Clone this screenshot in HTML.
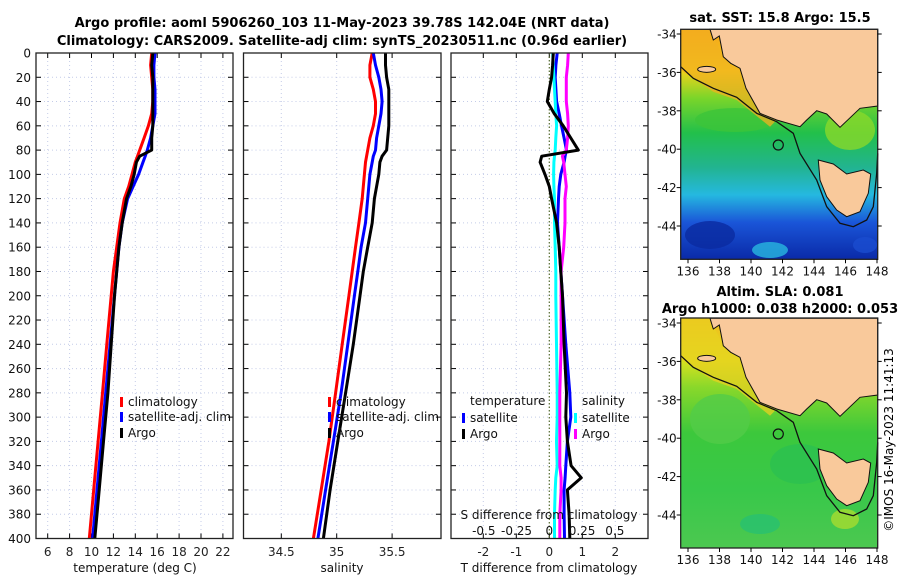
<!DOCTYPE html>
<html><head><meta charset="utf-8"><style>
body{margin:0;background:#fff}
svg{display:block;font-family:"DejaVu Sans","Liberation Sans",sans-serif}
</style></head><body>
<svg id="fig" width="900" height="580" viewBox="0 0 900 580" xmlns="http://www.w3.org/2000/svg">
<defs>
<linearGradient id="sst" x1="0" y1="0" x2="0" y2="1">
<stop offset="0" stop-color="#f6a11a"/><stop offset="0.18" stop-color="#f2d21a"/><stop offset="0.3" stop-color="#7ad52a"/><stop offset="0.45" stop-color="#22c04a"/><stop offset="0.6" stop-color="#22b490"/><stop offset="0.72" stop-color="#25b8e0"/><stop offset="0.84" stop-color="#1a55d8"/><stop offset="1" stop-color="#0a2aa8"/>
</linearGradient>
<linearGradient id="sla" x1="0" y1="0" x2="0" y2="1">
<stop offset="0" stop-color="#f4b81e"/><stop offset="0.18" stop-color="#dce21e"/><stop offset="0.3" stop-color="#8ad82a"/><stop offset="0.5" stop-color="#3cc83c"/><stop offset="0.75" stop-color="#38c84a"/><stop offset="1" stop-color="#4cc850"/>
</linearGradient>
</defs>
<g id="titles" font-weight="bold" font-size="13" text-anchor="middle">
<text x="342" y="27">Argo profile: aoml 5906260_103 11-May-2023 39.78S 142.04E (NRT data)</text>
<text x="342" y="45">Climatology: CARS2009. Satellite-adj clim: synTS_20230511.nc (0.96d earlier)</text>
<text x="780" y="22">sat. SST: 15.8 Argo: 15.5</text>
<text x="780" y="296">Altim. SLA: 0.081</text>
<text x="780" y="313">Argo h1000: 0.038 h2000: 0.053</text>
</g>
<text transform="translate(893,440) rotate(-90)" font-size="12" text-anchor="middle">©IMOS 16-May-2023 11:41:13</text>
<g id="panels"></g>
<g id="maps"></g>
</svg>
<script>
// ---- data ----
const profDepths=[0,10,20,30,40,50,60,70,80,85,90,100,110,120,140,160,180,200,240,280,320,360,400];
const tempClim=[15.5,15.4,15.5,15.6,15.6,15.5,15.2,14.8,14.4,14.2,14.0,13.7,13.4,13.0,12.6,12.3,12.0,11.8,11.4,11.0,10.6,10.2,9.8];
const tempSat=[15.8,15.7,15.7,15.8,15.8,15.8,15.6,15.4,15.1,14.9,14.7,14.3,13.8,13.3,12.8,12.5,12.3,12.1,11.7,11.3,10.9,10.5,10.1];
const tempArgo=[15.6,15.5,15.6,15.6,15.6,15.6,15.6,15.5,15.5,14.4,14.1,13.9,13.6,13.2,12.8,12.5,12.3,12.1,11.8,11.5,11.1,10.7,10.3];
const salClim=[35.32,35.30,35.30,35.33,35.35,35.35,35.33,35.30,35.28,35.27,35.26,35.25,35.24,35.23,35.20,35.17,35.14,35.11,35.05,34.99,34.93,34.86,34.79];
const salSat=[35.33,35.35,35.38,35.40,35.41,35.40,35.38,35.36,35.35,35.33,35.32,35.30,35.29,35.28,35.26,35.22,35.19,35.16,35.10,35.04,34.97,34.90,34.83];
const salArgo=[35.44,35.44,35.45,35.47,35.47,35.47,35.47,35.46,35.45,35.41,35.39,35.38,35.36,35.34,35.32,35.28,35.24,35.21,35.15,35.08,35.01,34.94,34.88];
const diffDepths=[0,10,20,30,40,50,60,70,80,85,90,100,110,120,140,160,180,200,240,280,300,320,340,350,360,380,400];
const tDiffArgo=[0.12,0.10,0.07,0.0,-0.06,0.15,0.42,0.65,0.88,-0.23,-0.28,-0.13,0.0,0.07,0.22,0.30,0.35,0.40,0.45,0.52,0.50,0.55,0.66,0.97,0.55,0.60,0.62];
const tDiffSat=[0.24,0.20,0.18,0.20,0.22,0.30,0.37,0.45,0.52,0.48,0.45,0.35,0.30,0.28,0.25,0.30,0.35,0.40,0.50,0.62,0.65,0.55,0.50,0.48,0.45,0.45,0.46];
const sDiffSat=[0.026,0.03,0.035,0.04,0.045,0.05,0.056,0.05,0.045,0.04,0.035,0.033,0.035,0.04,0.04,0.045,0.05,0.05,0.055,0.06,0.06,0.055,0.06,0.05,0.045,0.04,0.04];
const sDiffArgo=[0.145,0.14,0.13,0.13,0.13,0.14,0.145,0.14,0.13,0.10,0.11,0.12,0.13,0.12,0.12,0.11,0.09,0.09,0.09,0.08,0.08,0.08,0.08,0.09,0.09,0.08,0.08];
const depthTicks=[0,20,40,60,80,100,120,140,160,180,200,220,240,260,280,300,320,340,360,380,400];
const tempTicks=[6,8,10,12,14,16,18,20,22];
const salTicks=[34.5,35,35.5];
const tDiffTicks=[-2,-1,0,1,2];
const sDiffTicks=[-0.5,-0.25,0,0.25,0.5];
const lonTicks=[136,138,140,142,144,146,148];
const latTicks=[-34,-36,-38,-40,-42,-44];

// ---- helpers ----
const NS='http://www.w3.org/2000/svg';
function mk(tag,attrs,parent){const e=document.createElementNS(NS,tag);for(const k in attrs)e.setAttribute(k,attrs[k]);parent.appendChild(e);return e;}
const TOP=53,BOT=538.5;
const yD=d=>TOP+d*(BOT-TOP)/400;
const panelsG=document.getElementById('panels');
const xT=v=>47.7+(v-6)*10.95;
const xS=v=>281.3+(v-34.5)*110.8;
const xTd=v=>549.3+v*33;
const xSd=v=>549.3+v*131;

function panel(name,x0,x1,xf,ticks,gridFn,labelY){
  const g=mk('g',{},panelsG);
  
  
  mk('rect',{x:x0,y:TOP,width:x1-x0,height:BOT-TOP,fill:'#fff'},g);
  depthTicks.forEach(d=>{mk('line',{x1:x0,x2:x1,y1:yD(d),y2:yD(d),stroke:'#c4cce8','stroke-width':1,'stroke-dasharray':'1,3'},g);});
  ticks.forEach(v=>{const X=xf(v);if(v===0&&name==='difference-panel')return;mk('line',{x1:X,x2:X,y1:TOP,y2:BOT,stroke:'#c4cce8','stroke-width':1,'stroke-dasharray':'1,3'},g);});
  depthTicks.forEach(d=>{mk('line',{x1:x0,x2:x0+5,y1:yD(d),y2:yD(d),stroke:'#000'},g);mk('line',{x1:x1-5,x2:x1,y1:yD(d),y2:yD(d),stroke:'#000'},g);});
  ticks.forEach(v=>{const X=xf(v);mk('line',{x1:X,x2:X,y1:BOT-5,y2:BOT,stroke:'#000'},g);mk('line',{x1:X,x2:X,y1:TOP,y2:TOP+5,stroke:'#000'},g);
    const t=mk('text',{x:X,y:labelY,'font-size':12,'text-anchor':'middle',fill:'#222'},g);t.textContent=String(v);
    
    });
  return g;
}
function border(g,x0,x1){mk('rect',{x:x0,y:TOP,width:x1-x0,height:BOT-TOP,fill:'none',stroke:'#222','stroke-width':1.3},g);}
function line(g,name,xs,ds,xf,color,w){
  const pts=xs.map((v,i)=>xf(v).toFixed(1)+','+yD(ds[i]).toFixed(1)).join(' ');
  const p=mk('polyline',{points:pts,fill:'none',stroke:color,'stroke-width':w,'stroke-linejoin':'round'},g);
  
  
}
function txt(g,name,x,y,s,size,anchor){const t=mk('text',{x:x,y:y,'font-size':size||12,'text-anchor':anchor||'start',fill:'#111'},g);t.textContent=s;
  
  return t;}
function mark(g,x,y,color){mk('rect',{x:x,y:y-10,width:3,height:10,fill:color},g);}

const yl=mk('g',{},panelsG);


depthTicks.forEach(d=>{txt(yl,'y-tick-label',31,yD(d)+4.5,String(d),12,'end');});

let g1=panel('temperature-panel',36,233,xT,tempTicks,null,556);
line(g1,'temp-climatology-line',tempClim,profDepths,xT,'#ff0000',3);
line(g1,'temp-satellite-line',tempSat,profDepths,xT,'#0000ff',3);
line(g1,'temp-argo-line',tempArgo,profDepths,xT,'#000',3);
border(g1,36,233);
mark(g1,120,407,'#f00');txt(g1,'legend-climatology',128,406,'climatology');
mark(g1,120,422,'#00f');txt(g1,'legend-satellite-adj',128,421,'satellite-adj. clim');
mark(g1,120,438,'#000');txt(g1,'legend-argo',128,437,'Argo');
txt(g1,'temperature-axis-title',135,572,'temperature (deg C)',12,'middle');

let g2=panel('salinity-panel',243.5,441,xS,salTicks,null,556);
line(g2,'sal-climatology-line',salClim,profDepths,xS,'#ff0000',3);
line(g2,'sal-satellite-line',salSat,profDepths,xS,'#0000ff',3);
line(g2,'sal-argo-line',salArgo,profDepths,xS,'#000',3);
border(g2,243.5,441);
mark(g2,328,407,'#f00');txt(g2,'legend-climatology',336,406,'climatology');
mark(g2,328,422,'#00f');txt(g2,'legend-satellite-adj',336,421,'satellite-adj. clim');
mark(g2,328,438,'#000');txt(g2,'legend-argo',336,437,'Argo');
txt(g2,'salinity-axis-title',342,572,'salinity',12,'middle');

let g3=panel('difference-panel',451,648,xTd,tDiffTicks,null,556);
mk('line',{x1:xTd(0),x2:xTd(0),y1:TOP,y2:BOT,stroke:'#556b2f','stroke-width':1.2,'stroke-dasharray':'1.5,2'},g3);
line(g3,'t-diff-satellite-line',tDiffSat,diffDepths,xTd,'#0000ff',3);
line(g3,'s-diff-satellite-line',sDiffSat,diffDepths,xSd,'#00ffff',3);
line(g3,'s-diff-argo-line',sDiffArgo,diffDepths,xSd,'#ff00ff',3);
line(g3,'t-diff-argo-line',tDiffArgo,diffDepths,xTd,'#000',3);
border(g3,451,648);
txt(g3,'legend-temperature-heading',470,405,'temperature');
txt(g3,'legend-salinity-heading',582,405,'salinity');
mark(g3,462,423,'#00f');txt(g3,'legend-t-satellite',470,422,'satellite');
mark(g3,462,439,'#000');txt(g3,'legend-t-argo',470,438,'Argo');
mark(g3,574,423,'#0ff');txt(g3,'legend-s-satellite',582,422,'satellite');
mark(g3,574,439,'#f0f');txt(g3,'legend-s-argo',582,438,'Argo');
txt(g3,'s-diff-axis-title',549,519,'S difference from climatology',12,'middle');
sDiffTicks.forEach(v=>{txt(g3,'s-diff-tick-label',xSd(v),535,String(v),12,'middle');});
txt(g3,'t-diff-axis-title',549,572,'T difference from climatology',12,'middle');

// ---- maps ----
const mapsG=document.getElementById('maps');
const MX0=680.7,MX1=877.7;
const lonX=l=>688+(l-136)*15.75;
function zp(arr,dy){return arr.map(p=>(660+p[0]/3).toFixed(1)+','+(20+p[1]/3+dy).toFixed(1)).join(' ');}
const mainland=[[150,28],[160,60],[178,48],[190,110],[212,130],[240,145],[258,205],[300,280],[350,300],[420,320],[440,300],[470,272],[500,282],[540,322],[600,265],[653,258],[653,28]];
const tas=[[475,420],[520,432],[560,462],[610,450],[632,462],[625,520],[600,575],[560,590],[530,570],[500,530],[480,480]];
const contour=[[62,140],[100,175],[160,205],[230,232],[290,280],[350,305],[400,340],[420,400],[470,480],[500,560],[540,610],[580,620],[620,600],[640,560],[650,460],[653,400]];
const coastBand=[[62,28],[150,28],[190,110],[240,145],[258,205],[300,280],[350,300],[330,320],[230,240],[160,215],[62,150]];
function drawMap(name,y0,y1,dy,grad,patches,bandColor){
  const g=mk('g',{},mapsG);
  
  
  mk('rect',{x:MX0,y:y0,width:MX1-MX0,height:y1-y0,fill:'url(#'+grad+')'},g);
  patches.forEach(p=>mk('ellipse',{cx:p[0],cy:p[1]+dy,rx:p[2],ry:p[3],fill:p[4],opacity:0.8},g));
  mk('polygon',{points:zp(coastBand,dy),fill:bandColor,opacity:0.75},g);
  mk('polyline',{points:zp(contour,dy),fill:'none',stroke:'#111','stroke-width':1.3},g);
  mk('polygon',{points:zp(mainland,dy),fill:'#f9c99b',stroke:'#111','stroke-width':1},g);
  mk('ellipse',{cx:660+140/3,cy:20+148/3+dy,rx:9,ry:3,fill:'#f9c99b',stroke:'#111'},g);
  mk('polygon',{points:zp(tas,dy),fill:'#f9c99b',stroke:'#111','stroke-width':1},g);
  mk('circle',{cx:778.3,cy:145+dy,r:5,fill:'none',stroke:'#111','stroke-width':1.2},g);
  mk('rect',{x:MX0,y:y0,width:MX1-MX0,height:y1-y0,fill:'none',stroke:'#222','stroke-width':1.3},g);
  lonTicks.forEach(l=>{const X=lonX(l);mk('line',{x1:X,x2:X,y1:y1,y2:y1+4,stroke:'#000'},g);
    txt(g,'lon-tick-label',X,y1+16,String(l),12,'middle');});
  latTicks.forEach(la=>{const Y=34+(-34-la)*19.2+dy;mk('line',{x1:MX0-4,x2:MX0,y1:Y,y2:Y,stroke:'#000'},g);mk('line',{x1:MX1,x2:MX1+4,y1:Y,y2:Y,stroke:'#000'},g);
    txt(g,'lat-tick-label',MX0-4,Y+4.5,String(la),12,'end');});
}
drawMap('sst-map',29.3,259.3,0,'sst',[[735,120,40,12,'#3cc43a'],[770,250,18,8,'#28b8e0'],[710,235,25,14,'#0a2aa0'],[865,245,12,8,'#1a4cd0'],[850,130,25,20,'#8ad82a']],'#f2b020');
drawMap('sla-map',318,548,289,'sla',[[720,130,30,25,'#52cc48'],[800,175,30,20,'#2cc050'],[760,235,20,10,'#28c070'],[845,230,14,10,'#a8dc30']],'#e8d020');
</script>
</body></html>
